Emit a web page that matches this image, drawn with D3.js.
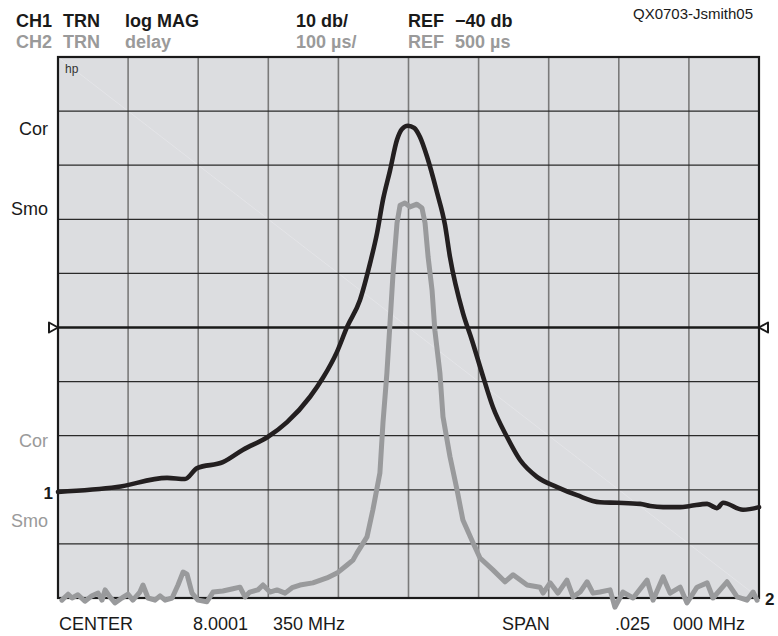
<!DOCTYPE html>
<html>
<head>
<meta charset="utf-8">
<script src="https://cdn.jsdelivr.net/npm/d3@7"></script>
<style>
  body { margin: 0; background: #fff; }
  svg { display: block; font-family: "Liberation Sans", Arial, sans-serif; }
</style>
</head>
<body>
<svg id="chart" width="778" height="636"></svg>
<script>
// CH1: log MAG (dB) vs frequency offset from center (kHz)
const ch1Freq = [-12.5, -10.4, -8.61, -7.97, -7.54, -6.62, -5.90, -5.01, -4.33, -3.51, -3.05, -2.55,
  -2.19, -1.73, -1.37, -1.12, -0.91, -0.66, -0.41, -0.23, -0.02, 0.20, 0.41, 0.66, 1.02, 1.30, 1.48,
  1.94, 2.26, 2.62, 3.01, 3.51, 3.98, 4.58, 5.30, 6.01, 6.83, 7.44, 8.26, 8.62, 9.08, 9.69, 10.04,
  10.65, 11.00, 11.22, 11.93, 12.5];
const ch1Mag = [-70.4, -69.5, -67.8, -68.0, -66.0, -64.9, -62.6, -60.2, -57.5, -52.8, -49.3, -44.5,
  -39.9, -34.9, -28.1, -22.5, -16.4, -11.0, -5.3, -3.3, -2.7, -3.1, -4.8, -8.4, -15.1, -21.0, -27.0,
  -37.3, -42.3, -48.4, -54.7, -60.2, -64.5, -67.6, -69.5, -71.0, -72.3, -72.4, -72.6, -73.0, -73.2,
  -73.2, -73.0, -72.6, -73.4, -72.4, -73.7, -73.2];

// CH2: group delay (us) vs frequency offset (kHz)
const ch2Freq = [-12.36, -12.14, -12.00, -11.79, -11.54, -11.29, -11.07, -10.93, -10.82, -10.65, -10.47,
  -10.22, -10.00, -9.83, -9.58, -9.47, -9.29, -9.04, -8.86, -8.68, -8.43, -8.22, -8.04, -7.90, -7.72,
  -7.51, -7.19, -6.97, -6.62, -6.26, -6.01, -5.83, -5.66, -5.37, -5.19, -4.94, -4.69, -4.40, -4.15,
  -3.87, -3.41, -2.91, -2.55, -2.19, -1.98, -1.84, -1.48, -1.27, -1.02, -0.91, -0.77, -0.66, -0.55,
  -0.41, -0.30, -0.13, 0.05, 0.30, 0.48, 0.59, 0.70, 0.84, 0.94, 1.12, 1.23, 1.48, 1.73, 1.94, 2.30,
  2.55, 3.01, 3.44, 3.73, 4.23, 4.69, 4.80, 5.05, 5.33, 5.65, 5.87, 6.12, 6.37, 6.58, 6.83, 7.19,
  7.36, 7.65, 8.01, 8.51, 8.72, 9.08, 9.33, 9.69, 9.93, 10.29, 10.65, 10.86, 11.36, 11.72, 12.07,
  12.29, 12.43];
const ch2Delay = [-4, 7, 0, 6, -6, 4, 9, -4, 15, 2, -9,
  0, 7, -4, 11, 24, 0, -4, 4, -4, 0, 24, 48, 44, 9,
  -4, -7, 11, 13, 17, 20, 2, 11, 15, 24, 11, 15, 9, 19,
  24, 28, 37, 46, 61, 70, 83, 113, 163, 231, 324, 416, 508, 601,
  693, 726, 730, 723, 728, 721, 693, 630, 569, 495, 416, 335, 261, 200, 144, 102,
  74, 52, 30, 43, 24, 20, 9, 28, 9, 33, 2, 11, 30, 9, 11, 15,
  -17, 11, 0, 33, -4, 39, 9, 20, -9, 20, 28, 0, 30, 2, -4,
  11, -4];

const headerRow1 = ["CH1", "TRN", "log MAG", "10 db/", "REF", "\u221240 db"];
const headerRow2 = ["CH2", "TRN", "delay", "100 \u00b5s/", "REF", "500 \u00b5s"];
const footer = ["CENTER", "8.0001", "350 MHz", "SPAN", ".025", "000 MHz"];

const plotL = 58, plotR = 759, plotT = 57, plotB = 598;

const svg = d3.select("#chart");

const x = d3.scaleLinear().domain([-12.5, 12.5]).range([plotL, plotR]);
const yMag = d3.scaleLinear().domain([-90, 10]).range([plotB, plotT]);
const yDelay = d3.scaleLinear().domain([0, 1000]).range([plotB, plotT]);

// plot background
svg.append("rect")
  .attr("x", plotL).attr("y", plotT)
  .attr("width", plotR - plotL).attr("height", plotB - plotT)
  .attr("fill", "#dcdde0");

// faint diagonal
svg.append("line")
  .attr("x1", plotL).attr("y1", plotT).attr("x2", plotR).attr("y2", plotB)
  .attr("stroke", "#eaeaec").attr("stroke-width", 0.6);

// grid
const g = svg.append("g");
g.selectAll(".vg")
  .data(d3.range(1, 10).map(i => -12.5 + i * 2.5))
  .enter().append("line")
  .attr("x1", d => x(d)).attr("x2", d => x(d))
  .attr("y1", plotT).attr("y2", plotB)
  .attr("stroke", "#7a7a7a").attr("stroke-width", 1.6);

g.selectAll(".hg")
  .data(d3.range(1, 10).map(i => -90 + i * 10).filter(d => d !== -40))
  .enter().append("line")
  .attr("x1", plotL).attr("x2", plotR)
  .attr("y1", d => yMag(d)).attr("y2", d => yMag(d))
  .attr("stroke", "#2a2a2a").attr("stroke-width", 1.2);

// reference line
svg.append("line")
  .attr("x1", plotL).attr("x2", plotR)
  .attr("y1", yMag(-40)).attr("y2", yMag(-40))
  .attr("stroke", "#1a1a1a").attr("stroke-width", 2.6);

// border
svg.append("rect")
  .attr("x", plotL).attr("y", plotT)
  .attr("width", plotR - plotL).attr("height", plotB - plotT)
  .attr("fill", "none").attr("stroke", "#1a1a1a").attr("stroke-width", 2.2);

// reference triangles
const ry = yMag(-40);
svg.append("path")
  .attr("d", `M${plotL - 9},${ry - 5} L${plotL},${ry} L${plotL - 9},${ry + 5} Z`)
  .attr("fill", "#fff").attr("stroke", "#1a1a1a").attr("stroke-width", 2).attr("stroke-linejoin", "round");
svg.append("path")
  .attr("d", `M${plotR + 9},${ry - 5} L${plotR},${ry} L${plotR + 9},${ry + 5} Z`)
  .attr("fill", "#fff").attr("stroke", "#1a1a1a").attr("stroke-width", 2).attr("stroke-linejoin", "round");

// traces
const ch1 = ch1Freq.map((f, i) => [f, ch1Mag[i]]);
const ch2 = ch2Freq.map((f, i) => [f, ch2Delay[i]]);

svg.append("path")
  .datum(ch1)
  .attr("d", d3.line().x(d => x(d[0])).y(d => yMag(d[1])).curve(d3.curveMonotoneX))
  .attr("fill", "none").attr("stroke", "#231f20").attr("stroke-width", 4.6)
  .attr("stroke-linejoin", "round").attr("stroke-linecap", "round");

svg.append("path")
  .datum(ch2)
  .attr("d", d3.line().x(d => x(d[0])).y(d => yDelay(d[1])))
  .attr("fill", "none").attr("stroke", "#999a9c").attr("stroke-width", 5)
  .attr("stroke-linejoin", "round").attr("stroke-linecap", "round");

// header text
const colX = [16, 63, 125, 296, 408, 455];
svg.selectAll(".h1").data(headerRow1).enter().append("text")
  .attr("x", (d, i) => colX[i]).attr("y", 27)
  .attr("font-size", 18).attr("font-weight", "bold").attr("fill", "#1a1a1a")
  .text(d => d);
svg.selectAll(".h2").data(headerRow2).enter().append("text")
  .attr("x", (d, i) => colX[i]).attr("y", 48)
  .attr("font-size", 18).attr("font-weight", "bold").attr("fill", "#9a9a9a")
  .text(d => d);

svg.append("text")
  .attr("x", 633).attr("y", 19)
  .attr("font-size", 15).attr("fill", "#1a1a1a")
  .text("QX0703-Jsmith05");

svg.append("text")
  .attr("x", 65).attr("y", 73)
  .attr("font-size", 12).attr("fill", "#333")
  .text("hp");

// side labels
const sideLabels = [
  { t: "Cor", y: 135, c: "#1a1a1a" },
  { t: "Smo", y: 215, c: "#1a1a1a" },
  { t: "Cor", y: 447, c: "#9a9a9a" },
  { t: "Smo", y: 527, c: "#9a9a9a" }
];
svg.selectAll(".side").data(sideLabels).enter().append("text")
  .attr("x", 48).attr("y", d => d.y)
  .attr("text-anchor", "end")
  .attr("font-size", 18).attr("fill", d => d.c)
  .text(d => d.t);

svg.append("text")
  .attr("x", 53).attr("y", 499).attr("text-anchor", "end")
  .attr("font-size", 17).attr("font-weight", "bold").attr("fill", "#1a1a1a")
  .text("1");
svg.append("text")
  .attr("x", 765).attr("y", 605)
  .attr("font-size", 17).attr("font-weight", "bold").attr("fill", "#1a1a1a")
  .text("2");

// footer
const footX = [59, 193, 273, 502, 615, 673];
svg.selectAll(".foot").data(footer).enter().append("text")
  .attr("x", (d, i) => footX[i]).attr("y", 630)
  .attr("font-size", 18).attr("fill", "#1a1a1a")
  .text(d => d);
</script>
</body>
</html>
